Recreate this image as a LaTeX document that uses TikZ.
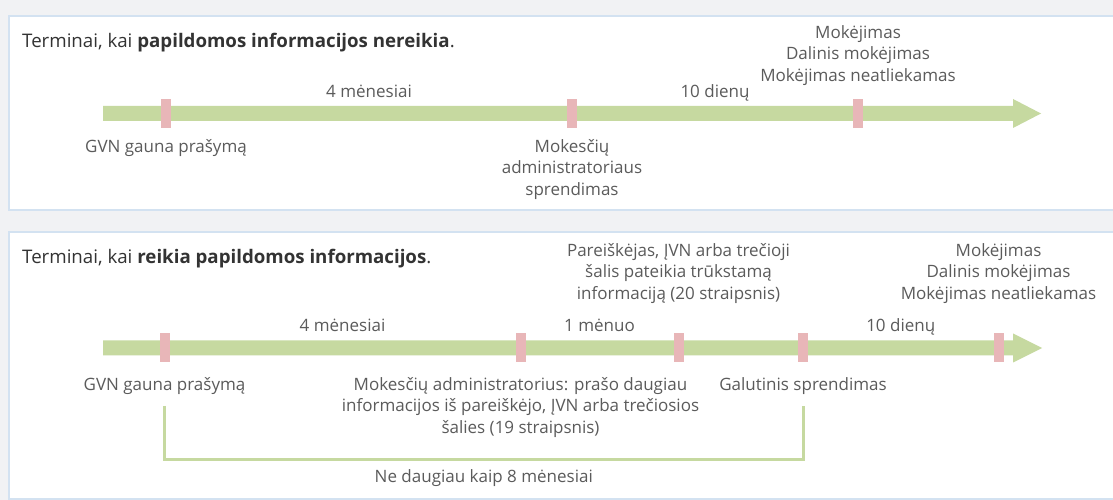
\documentclass[tikz,border=0pt]{standalone}
\usepackage{fontspec}
\setmainfont{Open Sans}
\usetikzlibrary{positioning,calc}

\definecolor{balkengruen}{HTML}{C6D9A0}
\definecolor{markenrosa}{HTML}{E8B6B8}
\definecolor{rahmenblau}{HTML}{D3E2F1}
\definecolor{hintergrau}{HTML}{F1F2F4}
\definecolor{schriftgrau}{HTML}{5B5B5B}

\begin{document}
\begin{tikzpicture}[
    x=1pt, y=1pt,
    every node/.style={font=\fontsize{17}{21.5}\selectfont, text=schriftgrau, inner sep=0pt}, % Schrift der Knoten
    panel/.style={draw=rahmenblau, line width=1.5pt, fill=white}, % Stil der Kaesten
    marke/.style={fill=markenrosa, minimum width=10pt, minimum height=29pt}, % Stil der Marken
    beschr/.style={align=center, anchor=base}, % Stil der Beschriftungen
    titel/.style={anchor=base west, text=black!80, font=\fontsize{18.7}{22}\selectfont}, % Stil der Titel
    klammer/.style={draw=balkengruen, line width=3pt} % Stil der Klammer
]

% Hintergrund
\fill[hintergrau] (0,0) rectangle (1113,500);
\useasboundingbox (0,0) rectangle (1113,500);
\clip (0,0) rectangle (1113,500);

% Kaesten
\draw[panel] (9,290) rectangle (1130,484);
\draw[panel] (9,1) rectangle (1130,268);

% Titel
\node[titel] (t1) at (22,452) {Terminai, kai \textbf{papildomos informacijos nereikia}.};
\node[titel] (t2) at (22,236) {Terminai, kai \textbf{reikia papildomos informacijos}.};

% Zeitstrahl oben
\fill[balkengruen] (103,379) -- (1013,379) -- (1013,372) -- (1041,386.5)
    -- (1013,401) -- (1013,394) -- (103,394) -- cycle;

% Marken oben
\node[marke] (a1) at (166,386.5) {};
\node[marke] (a2) at (572,386.5) {};
\node[marke] (a3) at (858,386.5) {};

% Beschriftungen oben (Basis = letzte Zeile)
\node[beschr] (a1txt) at ([yshift=-39pt]a1.center) {GVN gauna prašymą};
\node[beschr] (a2txt) at ([yshift=-82pt]a2.center) {Mokesčių\\administratoriaus\\sprendimas};
\node[beschr] (a3txt) at ([yshift=32pt]a3.center) {Mokėjimas\\Dalinis mokėjimas\\Mokėjimas neatliekamas};
\node[beschr] (a12txt) at ($(a1)!0.5!(a2)+(0,16)$) {4 mėnesiai};
\node[beschr] (a23txt) at ($(a2)!0.5!(a3)+(0,16)$) {10 dienų};

% Zeitstrahl unten
\fill[balkengruen] (103,144.5) -- (1013,144.5) -- (1013,137.5) -- (1042,152)
    -- (1013,166.5) -- (1013,159.5) -- (103,159.5) -- cycle;

% Marken unten
\node[marke] (b1) at (164.5,152) {};
\node[marke] (b2) at (520.5,152) {};
\node[marke] (b3) at (678.5,152) {};
\node[marke] (b4) at (803,152) {};
\node[marke] (b5) at (998.5,152) {};

% Beschriftungen unten
\node[beschr] (b1txt) at ([yshift=-42.5pt]b1.center) {GVN gauna prašymą};
\node[beschr] (b2txt) at ([yshift=-85.5pt]b2.center) {Mokesčių administratorius: prašo daugiau\\informacijos iš pareiškėjo, ĮVN arba trečiosios\\šalies (19 straipsnis)};
\node[beschr] (b4txt) at ([yshift=-42.5pt]b4.center) {Galutinis sprendimas};
\node[beschr] (b3txt) at ([yshift=48.5pt]b3.center) {Pareiškėjas, ĮVN arba trečioji\\šalis pateikia trūkstamą\\informaciją (20 straipsnis)};
\node[beschr] (b5txt) at ([yshift=48.5pt]b5.center) {Mokėjimas\\Dalinis mokėjimas\\Mokėjimas neatliekamas};
\node[beschr] (b12txt) at ($(b1)!0.5!(b2)+(0,16)$) {4 mėnesiai};
\node[beschr] (b23txt) at ($(b2)!0.5!(b3)+(0,16)$) {1 mėnuo};
\node[beschr] (b45txt) at ($(b4)!0.5!(b5)+(0,16)$) {10 dienų};

% Klammer fuer die Gesamtfrist
\draw[klammer] ([yshift=-58pt]b1.center) -- ([yshift=-112pt]b1.center) -| ([yshift=-58pt]b4.center);
\node[beschr] (frist) at ($(b1)!0.5!(b4)+(0,-134.5)$) {Ne daugiau kaip 8 mėnesiai};

\end{tikzpicture}
\end{document}
